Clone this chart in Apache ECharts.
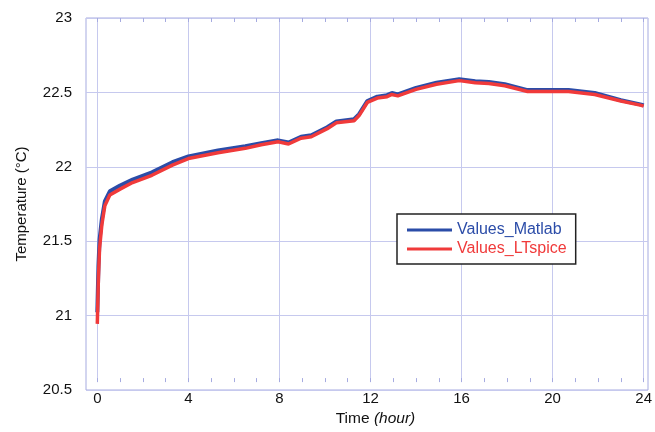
<!DOCTYPE html>
<html>
<head>
<meta charset="utf-8">
<script src="https://cdn.jsdelivr.net/npm/echarts@6/dist/echarts.min.js"></script>
<style>
  html, body { margin: 0; padding: 0; background: #fff; }
  #chart { width: 655px; height: 432px; }
</style>
</head>
<body>
<div id="chart"></div>
<script>
// time (hour)
const times = [0, 0.05, 0.1, 0.2, 0.33, 0.55, 1.0, 1.55, 2.4, 3.3,
  4.0, 5.3, 6.5, 7.2, 7.94, 8.4, 8.95, 9.4, 10.1, 10.5,
  11.28, 11.5, 11.86, 12.3, 12.73, 12.94, 13.2, 14.0, 14.9, 15.9,
  16.6, 17.2, 17.9, 18.9, 20.7, 21.85, 23.0, 23.9, 24];
const matlabValues = [20.98, 21.3, 21.48, 21.62, 21.74, 21.81, 21.85, 21.89, 21.94, 22.01,
  22.05, 22.09, 22.12, 22.14, 22.16, 22.145, 22.185, 22.195, 22.25, 22.29,
  22.305, 22.34, 22.43, 22.46, 22.47, 22.485, 22.475, 22.52, 22.555, 22.58,
  22.565, 22.56, 22.545, 22.505, 22.505, 22.485, 22.435, 22.405, 22.40];
const ltspiceValues = [20.90, 21.22, 21.42, 21.58, 21.71, 21.785, 21.825, 21.87, 21.92, 21.99,
  22.035, 22.075, 22.105, 22.13, 22.15, 22.135, 22.175, 22.185, 22.24, 22.28,
  22.295, 22.33, 22.42, 22.45, 22.46, 22.475, 22.465, 22.51, 22.545, 22.57,
  22.555, 22.55, 22.535, 22.495, 22.495, 22.475, 22.43, 22.40, 22.395];
const seriesNames = ["Values_Matlab", "Values_LTspice"];

const blue = "#2b4ca8";
const red = "#f03a3a";
const gridColor = "#c6c9ee";
const frameColor = "#a6abe0";
const font = "Liberation Sans, Arial, sans-serif";

const chart = echarts.init(document.getElementById("chart"));

const option = {
  animation: false,
  grid: [
    // frame + horizontal lines
    { left: 86, right: 7, top: 18, bottom: 42, show: true, borderColor: frameColor, borderWidth: 1 },
    // data area (x starts a bit inside the frame)
    { left: 97.3, right: 7, top: 18, bottom: 42 }
  ],
  legend: {
    left: 397,
    top: 214,
    orient: "vertical",
    icon: "rect",
    backgroundColor: "#fff",
    borderColor: "#222",
    borderWidth: 1.5,
    padding: [8, 9, 7, 10],
    itemGap: 3,
    itemWidth: 45,
    itemHeight: 3,
    data: [
      { name: seriesNames[0], textStyle: { color: blue } },
      { name: seriesNames[1], textStyle: { color: red } }
    ],
    textStyle: { fontFamily: font, fontSize: 16 }
  },
  xAxis: [
    { gridIndex: 0, type: "value", min: 0, max: 1, show: false },
    {
      gridIndex: 1, type: "value", min: 0, max: 24, interval: 4,
      name: "Time {i|(hour)}",
      nameLocation: "middle",
      nameGap: 26,
      nameTextStyle: {
        fontFamily: font, fontSize: 15.5, color: "#111", padding: [0, 0, 0, 10],
        rich: { i: { fontStyle: "italic", fontFamily: font, fontSize: 15.5, color: "#111" } }
      },
      axisLine: { show: false },
      axisTick: { show: true, inside: true, length: 4, lineStyle: { color: frameColor } },
      minorTick: { show: true, splitNumber: 4, length: 4, lineStyle: { color: frameColor } },
      axisLabel: { fontFamily: font, fontSize: 15, color: "#111", margin: 9 },
      splitLine: { show: true, lineStyle: { color: gridColor, width: 1 } }
    },
    {
      gridIndex: 1, type: "value", min: 0, max: 24, interval: 4, position: "top",
      axisLine: { show: false },
      axisTick: { show: true, inside: true, length: 4, lineStyle: { color: frameColor } },
      minorTick: { show: true, splitNumber: 4, length: 4, lineStyle: { color: frameColor } },
      axisLabel: { show: false },
      splitLine: { show: false }
    }
  ],
  yAxis: [
    {
      gridIndex: 0, type: "value", min: 20.5, max: 23, interval: 0.5,
      name: "Temperature (°C)",
      nameLocation: "middle",
      nameGap: 57,
      nameTextStyle: { fontFamily: font, fontSize: 15, color: "#111" },
      axisLine: { show: false },
      axisTick: { show: false },
      axisLabel: { fontFamily: font, fontSize: 15, color: "#111", margin: 14 },
      splitLine: { show: true, lineStyle: { color: gridColor, width: 1 } }
    },
    { gridIndex: 1, type: "value", min: 20.5, max: 23, show: false }
  ],
  series: [
    {
      name: seriesNames[0],
      type: "line",
      xAxisIndex: 1,
      yAxisIndex: 1,
      symbol: "none",
      z: 2,
      color: blue,
      lineStyle: { color: blue, width: 4 },
      data: times.map((t, i) => [t, matlabValues[i]])
    },
    {
      name: seriesNames[1],
      type: "line",
      xAxisIndex: 1,
      yAxisIndex: 1,
      symbol: "none",
      z: 3,
      color: red,
      lineStyle: { color: red, width: 3.5 },
      data: times.map((t, i) => [t, ltspiceValues[i]])
    }
  ]
};

chart.setOption(option);
</script>
</body>
</html>
